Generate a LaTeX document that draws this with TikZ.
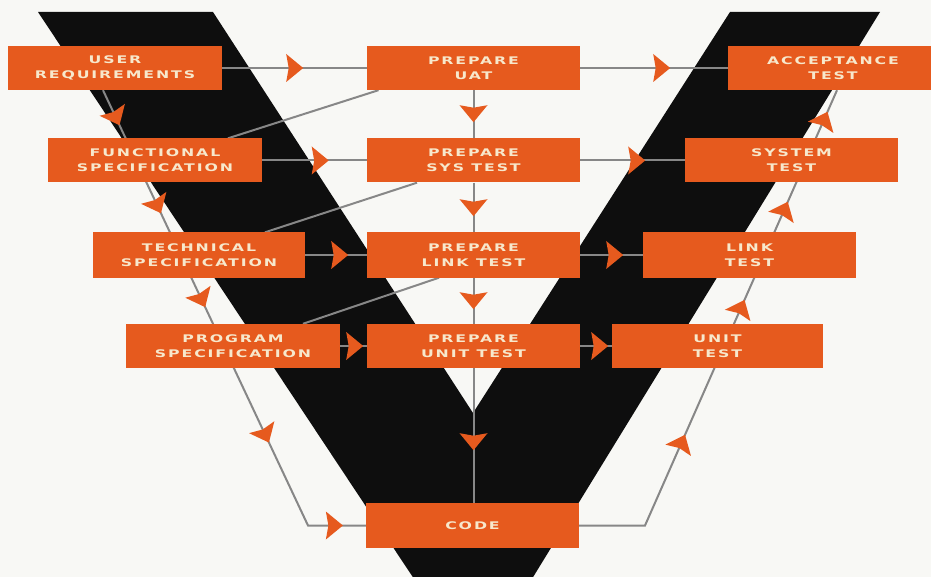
\documentclass[tikz,border=0pt]{standalone}
\usepackage{fontspec}
\newfontfamily\boxfont{DejaVu Sans Bold}[FakeStretch=1.5,LetterSpace=18]
\usetikzlibrary{calc,decorations.markings}

\definecolor{vorange}{HTML}{E65A1E}
\definecolor{vblack}{HTML}{0E0E0E}
\definecolor{vline}{HTML}{878787}
\definecolor{vtext}{HTML}{F7E8CC}
\definecolor{paper}{HTML}{F8F8F5}

\pgfdeclarelayer{backdrop}
\pgfsetlayers{backdrop,main}

\newcommand{\flowhead}{\fill[vorange] (0,0) -- (-17,14) -- (-14.5,0) -- (-17,-14) -- cycle;}

\tikzset{
  stagebox/.style={fill=vorange, minimum width=213pt, minimum height=44pt,
    inner sep=0pt, align=center, text=vtext,
    font=\boxfont\fontsize{10.5}{15}\selectfont},
  conn/.style={draw=vline, line width=2pt},
  headat/.style={postaction={decorate,
    decoration={markings, mark=at position #1 with {\flowhead}}}},
}

\begin{document}
\begin{tikzpicture}[x=1pt, y=-1pt]
  \useasboundingbox (0,0) rectangle (931,577);
  \clip (0,0) rectangle (931,577);

  % stage boxes
  \path
    node[stagebox, minimum width=214pt] (UR)  at (115,68)    {USER\\REQUIREMENTS}
    node[stagebox] (PUAT)  at (473.5,68)  {PREPARE\\UAT}
    node[stagebox, minimum width=210pt] (AT)  at (833,68)    {ACCEPTANCE\\TEST}
    node[stagebox, minimum width=214pt] (FS)  at (155,160.5) {FUNCTIONAL\\SPECIFICATION}
    node[stagebox] (PSYS)  at (473.5,160.5) {PREPARE\\SYS TEST}
    node[stagebox] (ST)    at (791.5,160.5) {SYSTEM\\TEST}
    node[stagebox, minimum width=212pt, minimum height=45pt] (TS) at (199,255) {TECHNICAL\\SPECIFICATION}
    node[stagebox, minimum height=45pt] (PLINK) at (473.5,255) {PREPARE\\LINK TEST}
    node[stagebox, minimum height=45pt] (LT)    at (749.5,255) {LINK\\TEST}
    node[stagebox, minimum width=214pt] (PS)  at (233,346)   {PROGRAM\\SPECIFICATION}
    node[stagebox] (PUNIT) at (473.5,346) {PREPARE\\UNIT TEST}
    node[stagebox, minimum width=211pt] (UT)  at (717.5,346) {UNIT\\TEST}
    node[stagebox, minimum width=213pt, minimum height=45pt] (CODE) at (472.5,525.5) {CODE};

  \coordinate (lc) at (308,525.5);
  \coordinate (rc) at (645,525.5);

  \begin{pgfonlayer}{backdrop}
    \fill[paper] (0,0) rectangle (931,577);
    % the black V
    \fill[vblack] (38,12) -- (213,12) -- (473,413) -- (730,12) -- (880,12)
      -- (519,600) -- (428,600) -- cycle;

    % across each row
    \draw[conn, headat=81pt] (UR.east) -- (UR.east -| PUAT.west);
    \draw[conn, headat=90pt] (PUAT.east) -- (PUAT.east -| AT.west);
    \draw[conn, headat=66.5pt] (FS.east) -- (FS.east -| PSYS.west);
    \draw[conn, headat=65pt] (PSYS.east) -- (PSYS.east -| ST.west);
    \draw[conn, headat=43pt] (TS.east) -- (TS.east -| PLINK.west);
    \draw[conn, headat=43pt] (PLINK.east) -- (PLINK.east -| LT.west);
    \draw[conn, headat=23pt] (PS.east) -- (PS.east -| PUNIT.west);
    \draw[conn, headat=28pt] (PUNIT.east) -- (PUNIT.east -| UT.west);

    % down the middle column
    \draw[conn, headat=32pt] (PUAT.south) -- (PSYS.north);
    \draw[conn, headat=33.5pt] (PSYS.south) -- (PLINK.north);
    \draw[conn, headat=31.5pt] (PLINK.south) -- (PUNIT.north);
    \draw[conn, headat=82pt] (PUNIT.south) -- (PUNIT.south |- CODE.north);

    % from each preparation to the next specification
    \draw[conn] ($(PUAT.south)+(-95,0)$) -- ($(FS.north)+(73,0)$);
    \draw[conn] ($(PSYS.south)+(-56.5,0)$) -- ($(TS.north)+(66,0)$);
    \draw[conn] ($(PLINK.south)+(-34.5,0)$) -- ($(PS.north)+(70,0)$);

    % left descent to the code
    \draw[conn, headat=38.7pt, headat=136pt, headat=239.8pt, headat=389.5pt,
      headat=516pt]
      ($(UR.south)+(-12,0)$) -- (lc) -- (CODE.west);

    % right ascent to acceptance
    \draw[conn, headat=165pt, headat=312.4pt, headat=419.6pt, headat=518pt]
      (CODE.east) -- (rc) -- ($(AT.south)+(4,0)$);
  \end{pgfonlayer}
\end{tikzpicture}
\end{document}
